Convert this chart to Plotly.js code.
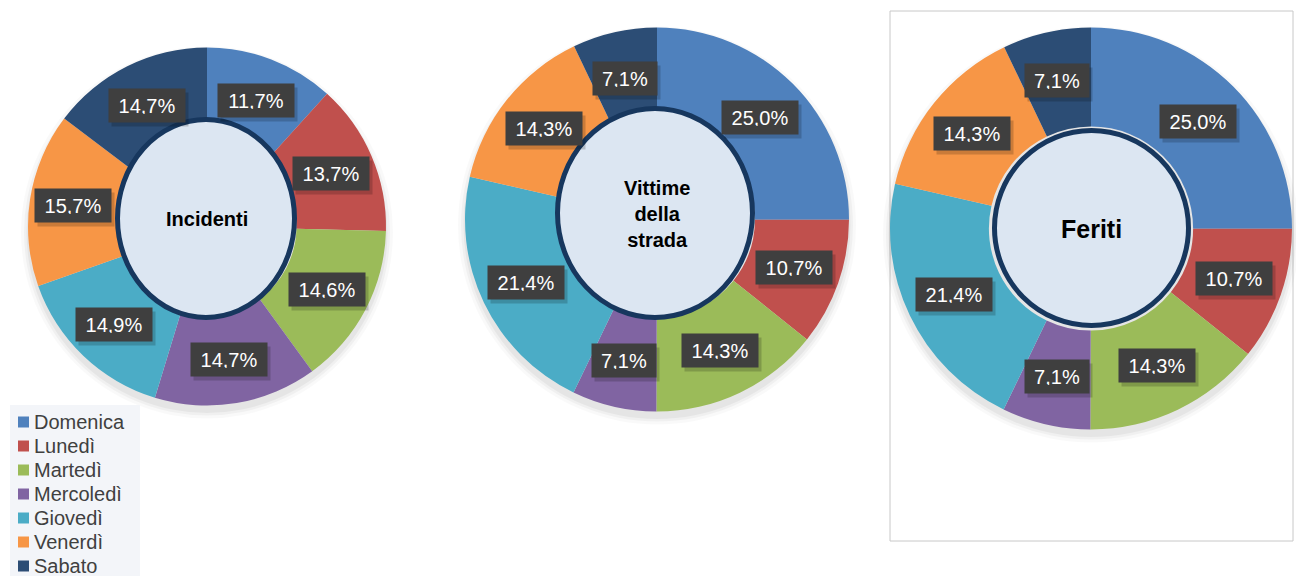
<!DOCTYPE html>
<html>
<head>
<meta charset="utf-8">
<script src="https://cdn.plot.ly/plotly-3.0.1.min.js"></script>
<style>html,body{margin:0;padding:0;background:#fff;}#chart{width:1296px;height:576px;}</style>
</head>
<body>
<div id="chart"></div>
<script>
// ---- data ----
const days = ['Domenica', 'Lunedì', 'Martedì', 'Mercoledì', 'Giovedì', 'Venerdì', 'Sabato'];
const incidenti = [11.7, 13.7, 14.6, 14.7, 14.9, 15.7, 14.7];
const vittime = [25.0, 10.7, 14.3, 7.1, 21.4, 14.3, 7.1];
const feriti = [25.0, 10.7, 14.3, 7.1, 21.4, 14.3, 7.1];
const centerTitles = ['Incidenti', 'Vittime<br>della<br>strada', 'Feriti'];

// ---- styles / geometry ----
const W = 1296, H = 576;
const colors = ['#4f81bd', '#c0504d', '#9bbb59', '#8064a2', '#4bacc6', '#f79646', '#2c4d75'];
const FONT = 'Liberation Sans, Arial, sans-serif';
const px = v => v / W;
const py = v => 1 - v / H;

const pies = [
  {vals: incidenti, cx: 207, cy: 226.5, R: 179, hole: 0.50, ell: [115, 117, 297, 320], title: centerTitles[0], tsize: 20, ty: 219},
  {vals: vittime, cx: 657, cy: 219.5, R: 192, hole: 0.51, ell: [555, 106, 755, 320], title: centerTitles[1], tsize: 20, ty: 214},
  {vals: feriti, cx: 1091, cy: 228.5, R: 201, hole: 0.508, ell: [992, 128, 1191, 328], title: centerTitles[2], tsize: 25, ty: 229}
];

const traces = [];
const shapes = [];
const annotations = [];

// frame around third chart
shapes.push({type: 'rect', xref: 'paper', yref: 'paper', x0: px(890), x1: px(1293), y0: py(541), y1: py(11),
  line: {color: '#c8c8c8', width: 1}, fillcolor: 'rgba(0,0,0,0)', layer: 'below'});

pies.forEach((p, i) => {
  // soft shadow
  [[7, 0.025], [4, 0.035], [1.5, 0.045]].forEach(([g, a]) => {
    shapes.push({type: 'circle', xref: 'paper', yref: 'paper', layer: 'below',
      x0: px(p.cx - p.R - g), x1: px(p.cx + p.R + g), y0: py(p.cy + p.R + g + 6), y1: py(p.cy - p.R - g + 6),
      fillcolor: 'rgba(0,0,0,' + a + ')', line: {width: 0}});
  });
  traces.push({
    type: 'pie',
    labels: days,
    values: p.vals,
    sort: false,
    direction: 'clockwise',
    rotation: 0,
    hole: p.hole,
    textinfo: 'none',
    hoverinfo: 'label+percent',
    marker: {colors: colors, line: {width: 0}},
    showlegend: false,
    domain: {x: [px(p.cx - p.R), px(p.cx + p.R)], y: [py(p.cy + p.R), py(p.cy - p.R)]}
  });
  // center disc
  const e = p.ell, lw = 5, h = lw / 2;
  shapes.push({type: 'circle', xref: 'paper', yref: 'paper', layer: 'above',
    x0: px(e[0] + h), x1: px(e[2] - h), y0: py(e[3] - h), y1: py(e[1] + h),
    fillcolor: '#dce6f2', line: {color: '#17375e', width: lw}});
  annotations.push({xref: 'paper', yref: 'paper', x: px(p.cx), y: py(p.ty), xanchor: 'center', yanchor: 'middle',
    showarrow: false, text: '<b>' + p.title + '</b>', font: {family: FONT, size: p.tsize, color: '#000'}, align: 'center'});

  // data labels
  const total = p.vals.reduce((a, b) => a + b, 0);
  let cum = 0;
  p.vals.forEach(v => {
    const mid = (cum + v / 2) / total * 2 * Math.PI;
    cum += v;
    const d = p.R * 0.755;
    const lx = p.cx + d * Math.sin(mid);
    const ly = p.cy - d * Math.cos(mid);
    const txt = v.toFixed(1).replace('.', ',') + '%';
    const w = txt.length <= 4 ? 48 : 60;
    annotations.push({xref: 'paper', yref: 'paper', x: px(lx + 3), y: py(ly + 4), xanchor: 'center', yanchor: 'middle',
      showarrow: false, text: ' ', width: w, height: 17, borderpad: 8, bgcolor: 'rgba(0,0,0,0.18)',
      font: {family: FONT, size: 20, color: 'rgba(0,0,0,0)'}});
    annotations.push({xref: 'paper', yref: 'paper', x: px(lx), y: py(ly), xanchor: 'center', yanchor: 'middle',
      showarrow: false, text: txt, width: w, height: 17, borderpad: 8, bgcolor: '#3f3f3f',
      font: {family: FONT, size: 20, color: '#ffffff'}});
  });
});

// legend (drawn from the category list)
shapes.push({type: 'rect', xref: 'paper', yref: 'paper', layer: 'below',
  x0: px(10), x1: px(140), y0: py(576), y1: py(405), fillcolor: '#f3f5f9', line: {width: 0}});
days.forEach((d, i) => {
  const yc = 422 + 24 * i;
  shapes.push({type: 'rect', xref: 'paper', yref: 'paper', layer: 'above',
    x0: px(18), x1: px(29), y0: py(yc + 5.5), y1: py(yc - 5.5), fillcolor: colors[i], line: {width: 0}});
  annotations.push({xref: 'paper', yref: 'paper', x: px(32), y: py(yc), xanchor: 'left', yanchor: 'middle',
    showarrow: false, text: d, font: {family: FONT, size: 20, color: '#404040'}});
});

const layout = {
  width: W, height: H,
  margin: {l: 0, r: 0, t: 0, b: 0, pad: 0, autoexpand: false},
  paper_bgcolor: '#ffffff',
  showlegend: false,
  shapes: shapes,
  annotations: annotations
};

Plotly.newPlot('chart', traces, layout, {displayModeBar: false, staticPlot: true});
</script>
</body>
</html>
